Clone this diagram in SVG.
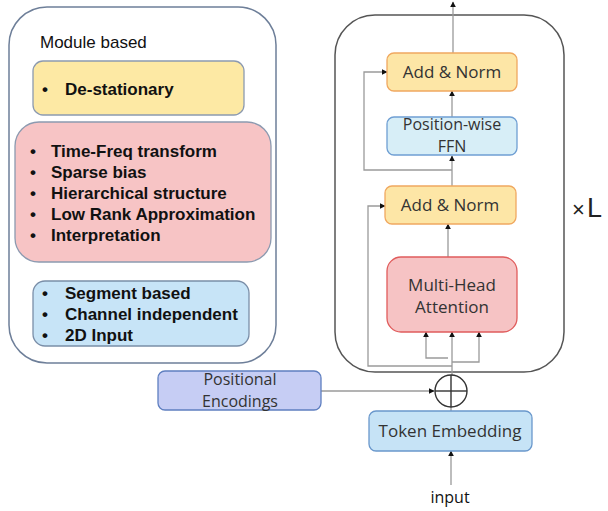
<svg xmlns="http://www.w3.org/2000/svg" width="608" height="511" viewBox="0 0 608 511">
  <defs>
    <marker id="arrow" viewBox="0 0 10 10" refX="9" refY="5" markerWidth="6" markerHeight="6" orient="auto-start-reverse" markerUnits="userSpaceOnUse">
      <path d="M0,0 L10,5 L0,10 z" fill="#111"/>
    </marker>
    <style>
      .list { font-family: "Liberation Sans", Arial, sans-serif; font-size: 17px; font-weight: bold; fill: #111; }
      .lbl { font-family: "Open Sans", "Noto Sans", sans-serif; font-size: 17px; fill: #333; text-anchor: middle; }
      .lbl2 { font-family: "Open Sans", "Noto Sans", sans-serif; font-size: 16px; fill: #333; text-anchor: middle; }
      .wire { fill: none; stroke: #9a9a9a; stroke-width: 1.3; }
      .frame { fill: #fff; stroke: #6e7f99; stroke-width: 1.5; }
    </style>
  </defs>
  <rect width="608" height="511" fill="#fff"/>

  <!-- left panel: module based -->
  <g id="module-panel">
    <rect class="frame" x="9" y="7" width="267" height="356" rx="38"/>
    <text x="40" y="48" font-family="Liberation Sans, Arial, sans-serif" font-size="17" fill="#111">Module based</text>
  </g>
  <g id="destationary">
    <rect x="33" y="61" width="211" height="54" rx="10" fill="#fde9a4" stroke="#8c9ab0" stroke-width="1.3"/>
    <text class="list" x="42" y="95">•</text>
    <text class="list" x="65" y="95">De-stationary</text>
  </g>
  <g id="attention-variants">
    <rect x="15" y="122" width="256" height="140" rx="24" fill="#f7c4c5" stroke="#8c9ab0" stroke-width="1.3"/>
    <g class="list">
      <text x="30" y="157">•</text><text x="51" y="157">Time-Freq transform</text>
      <text x="30" y="178">•</text><text x="51" y="178">Sparse bias</text>
      <text x="30" y="199">•</text><text x="51" y="199">Hierarchical structure</text>
      <text x="30" y="220">•</text><text x="51" y="220">Low Rank Approximation</text>
      <text x="30" y="241">•</text><text x="51" y="241">Interpretation</text>
    </g>
  </g>
  <g id="input-variants">
    <rect x="33" y="281" width="216" height="65" rx="12" fill="#c7e4f7" stroke="#7a8ea8" stroke-width="1.3"/>
    <g class="list">
      <text x="42" y="299">•</text><text x="65" y="299">Segment based</text>
      <text x="42" y="320">•</text><text x="65" y="320">Channel independent</text>
      <text x="42" y="341">•</text><text x="65" y="341">2D Input</text>
    </g>
  </g>

  <!-- encoder block frame -->
  <g id="encoder-frame">
    <rect x="335" y="15" width="229" height="357" rx="40" fill="#fff" stroke="#555" stroke-width="1.5"/>
    <text x="572" y="217" font-family="Liberation Sans, Arial, sans-serif" font-size="22" fill="#222">×</text>
    <text x="587" y="217" font-family="Liberation Sans, Arial, sans-serif" font-size="27" fill="#222">L</text>
  </g>

  <!-- connectors -->
  <g id="connectors">
    <line class="wire" x1="453" y1="53" x2="453" y2="2" marker-end="url(#arrow)"/>
    <line class="wire" x1="452" y1="117" x2="452" y2="91" marker-end="url(#arrow)"/>
    <line class="wire" x1="452" y1="186" x2="452" y2="156" marker-end="url(#arrow)"/>
    <polyline class="wire" points="452,170 364,170 364,72 387,72" marker-end="url(#arrow)"/>
    <line class="wire" x1="448" y1="257" x2="448" y2="224" marker-end="url(#arrow)"/>
    <polyline class="wire" points="452,366 368,366 368,206 385,206" marker-end="url(#arrow)"/>
    <line class="wire" x1="452" y1="375" x2="452" y2="332" marker-end="url(#arrow)"/>
    <polyline class="wire" points="448,358 426,358 426,332" marker-end="url(#arrow)"/>
    <polyline class="wire" points="452,362 479,362 479,332" marker-end="url(#arrow)"/>
    <line class="wire" x1="321" y1="391" x2="434" y2="391" marker-end="url(#arrow)"/>
    <line class="wire" x1="451" y1="407" x2="451" y2="411"/>
    <line class="wire" x1="451" y1="485" x2="451" y2="451" marker-end="url(#arrow)"/>
  </g>

  <g id="add-norm-top">
    <rect x="387" y="53" width="130" height="38" rx="7" fill="#fde6a6" stroke="#f0a860" stroke-width="1.3"/>
    <text class="lbl" x="452" y="78">Add &amp; Norm</text>
  </g>
  <g id="ffn">
    <rect x="387" y="117" width="130" height="38" rx="7" fill="#d7eef7" stroke="#6f9fd3" stroke-width="1.3"/>
    <text class="lbl2" x="452" y="130">Position-wise</text>
    <text class="lbl2" x="452" y="152">FFN</text>
  </g>
  <g id="add-norm-bottom">
    <rect x="385" y="186" width="131" height="38" rx="7" fill="#fde6a6" stroke="#f0a860" stroke-width="1.3"/>
    <text class="lbl" x="450" y="211">Add &amp; Norm</text>
  </g>
  <g id="multi-head-attention">
    <rect x="387" y="257" width="130" height="75" rx="14" fill="#f6c3c4" stroke="#e05c5c" stroke-width="1.3"/>
    <text class="lbl" x="452" y="291">Multi-Head</text>
    <text class="lbl" x="452" y="313">Attention</text>
  </g>
  <g id="sum">
    <circle cx="451" cy="391" r="16" fill="none" stroke="#333" stroke-width="1.4"/>
    <line x1="435" y1="391" x2="467" y2="391" stroke="#333" stroke-width="1.4"/>
    <line x1="451" y1="375" x2="451" y2="407" stroke="#333" stroke-width="1.4"/>
  </g>
  <g id="positional-encodings">
    <rect x="158" y="371" width="163" height="39" rx="7" fill="#c6cdf4" stroke="#5f7fc0" stroke-width="1.3"/>
    <text class="lbl2" x="240" y="385">Positional</text>
    <text class="lbl2" x="240" y="407">Encodings</text>
  </g>
  <g id="token-embedding">
    <rect x="369" y="411" width="163" height="40" rx="7" fill="#c6e3f6" stroke="#6a98cc" stroke-width="1.3"/>
    <text class="lbl" x="450" y="437">Token Embedding</text>
  </g>
  <g id="input">
    <text class="lbl" x="450" y="503" style="fill:#111;font-size:16px">input</text>
  </g>
</svg>
